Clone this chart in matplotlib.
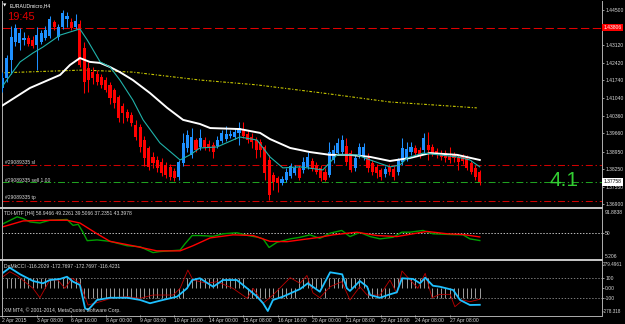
import numpy as np
import matplotlib
matplotlib.use("Agg")
from matplotlib import pyplot as plt
from matplotlib.lines import Line2D

plt.rcParams['lines.scale_dashes'] = False
plt.rcParams['font.family'] = ['Liberation Sans', 'DejaVu Sans']

# EURAUDmicro H4 candles
opens = [1.4144,1.4183,1.4253,1.4324,1.4320,1.4332,1.4340,1.4332,1.4312,1.4324,
         1.4340,1.4347,1.4402,1.4343,1.4383,1.4414,1.4402,1.4383,1.4394,1.4300,
         1.4222,1.4206,1.4199,1.4187,1.4175,1.4156,1.4136,1.4109,1.4073,1.4050,
         1.4038,1.3999,1.3991,1.3940,1.3909,1.3874,1.3862,1.3854,1.3842,1.3835,
         1.3819,1.3795,1.3850,1.3909,1.3882,1.3940,1.3913,1.3940,1.3925,1.3921,
         1.3917,1.3936,1.3944,1.3956,1.3952,1.3968,1.3983,1.3964,1.3952,1.3940,
         1.3932,1.3913,1.3862,1.3803,1.3791,1.3772,1.3784,1.3799,1.3811,1.3831,
         1.3823,1.3835,1.3858,1.3842,1.3831,1.3815,1.3803,1.3862,1.3889,1.3893,
         1.3917,1.3889,1.3831,1.3882,1.3874,1.3870,1.3850,1.3835,1.3823,1.3807,
         1.3835,1.3827,1.3815,1.3854,1.3866,1.3893,1.3909,1.3901,1.3901,1.3921,
         1.3913,1.3897,1.3889,1.3889,1.3878,1.3882,1.3874,1.3874,1.3870,1.3850,
         1.3831,1.3815]
closes = [1.4183,1.4261,1.4343,1.4379,1.4359,1.4340,1.4316,1.4308,1.4351,1.4359,
          1.4371,1.4414,1.4383,1.4383,1.4437,1.4426,1.4379,1.4406,1.4234,1.4167,
          1.4175,1.4183,1.4167,1.4156,1.4136,1.4105,1.4085,1.4026,1.4046,1.4026,
          1.4007,1.3952,1.3913,1.3870,1.3835,1.3850,1.3831,1.3811,1.3803,1.3795,
          1.3791,1.3854,1.3929,1.3960,1.3952,1.3901,1.3948,1.3913,1.3909,1.3893,
          1.3940,1.3968,1.3964,1.3964,1.3972,1.3987,1.3956,1.3940,1.3932,1.3901,
          1.3901,1.3811,1.3725,1.3776,1.3772,1.3788,1.3815,1.3838,1.3831,1.3791,
          1.3854,1.3874,1.3831,1.3815,1.3791,1.3784,1.3893,1.3901,1.3929,1.3940,
          1.3854,1.3823,1.3870,1.3913,1.3913,1.3831,1.3815,1.3811,1.3795,1.3827,
          1.3815,1.3795,1.3862,1.3909,1.3905,1.3913,1.3889,1.3882,1.3948,1.3901,
          1.3889,1.3882,1.3874,1.3870,1.3862,1.3870,1.3854,1.3858,1.3831,1.3815,
          1.3795,1.3776]
highs = [1.4206,1.4273,1.4387,1.4394,1.4379,1.4363,1.4351,1.4347,1.4383,1.4371,
         1.4387,1.4426,1.4410,1.4394,1.4449,1.4441,1.4418,1.4434,1.4410,1.4324,
         1.4246,1.4226,1.4214,1.4199,1.4187,1.4167,1.4144,1.4116,1.4085,1.4062,
         1.4050,1.4019,1.4003,1.3956,1.3917,1.3893,1.3878,1.3870,1.3854,1.3846,
         1.3831,1.3862,1.3968,1.3979,1.3987,1.3948,1.3983,1.3952,1.3940,1.3932,
         1.3956,1.3979,1.3995,1.3979,1.3987,1.4011,1.4011,1.3979,1.3968,1.3952,
         1.3944,1.3921,1.3882,1.3815,1.3799,1.3799,1.3831,1.3850,1.3842,1.3842,
         1.3874,1.3893,1.3870,1.3854,1.3842,1.3831,1.3932,1.3921,1.3948,1.3960,
         1.3948,1.3901,1.3882,1.3929,1.3929,1.3889,1.3862,1.3846,1.3831,1.3838,
         1.3846,1.3838,1.3870,1.3948,1.3932,1.3932,1.3921,1.3913,1.3968,1.3972,
         1.3925,1.3909,1.3901,1.3901,1.3913,1.3893,1.3885,1.3885,1.3882,1.3862,
         1.3842,1.3823]
lows = [1.4128,1.4167,1.4199,1.4308,1.4293,1.4312,1.4308,1.4300,1.4214,1.4316,
        1.4332,1.4340,1.4371,1.4332,1.4375,1.4383,1.4371,1.4375,1.4226,1.4124,
        1.4128,1.4159,1.4156,1.4144,1.4128,1.4081,1.4066,1.4011,1.4007,1.4015,
        1.3995,1.3940,1.3893,1.3838,1.3823,1.3831,1.3815,1.3799,1.3791,1.3784,
        1.3780,1.3784,1.3838,1.3893,1.3870,1.3893,1.3901,1.3901,1.3897,1.3870,
        1.3909,1.3929,1.3936,1.3948,1.3944,1.3921,1.3948,1.3929,1.3909,1.3870,
        1.3874,1.3784,1.3705,1.3744,1.3737,1.3764,1.3776,1.3791,1.3803,1.3784,
        1.3811,1.3827,1.3819,1.3807,1.3780,1.3780,1.3795,1.3850,1.3882,1.3885,
        1.3842,1.3815,1.3819,1.3870,1.3862,1.3815,1.3803,1.3791,1.3784,1.3795,
        1.3803,1.3784,1.3803,1.3842,1.3858,1.3882,1.3878,1.3870,1.3889,1.3862,
        1.3878,1.3870,1.3862,1.3854,1.3850,1.3854,1.3823,1.3846,1.3823,1.3807,
        1.3784,1.3764]

# moving averages (bar index, price)
white_x = [-0.6,6.4,13.4,15.7,18.0,20.3,22.7,25.0,27.3,30.3,34.3,38.3,42.0,45.9,
           48.3,55.2,59.9,62.2,66.9,71.5,76.2,80.8,85.5,90.1,94.8,99.4,105.7,111.0]
white_ma = [1.4069,1.4144,1.4195,1.4234,1.4261,1.4246,1.4242,1.4226,1.4206,1.4175,
            1.4124,1.4066,1.4019,1.4003,1.3987,1.3983,1.3968,1.3944,1.3909,1.3893,
            1.3882,1.3882,1.3874,1.3858,1.3870,1.3889,1.3882,1.3862]
teal_x = [-0.6,1.0,4.1,7.1,9.4,13.4,15.7,18.0,19.7,22.7,25.0,27.3,30.3,32.7,36.6,
          41.3,43.6,45.9,49.9,55.2,59.2,62.2,65.2,69.2,74.5,77.8,82.4,85.5,90.1,
          92.4,94.1,97.8,105.7,108.7,111.0]
teal_ma = [1.4136,1.4175,1.4246,1.4281,1.4304,1.4351,1.4363,1.4375,1.4332,1.4246,
           1.4226,1.4175,1.4097,1.4019,1.3929,1.3862,1.3882,1.3909,1.3913,1.3952,
           1.3940,1.3874,1.3831,1.3835,1.3823,1.3882,1.3882,1.3862,1.3835,1.3842,
           1.3870,1.3889,1.3874,1.3862,1.3835]
yellow_x = [-0.6,18.7,30.3,45.9,59.2,74.5,90.1,110.3]
yellow_ma = [1.4203,1.4214,1.4206,1.4175,1.4156,1.4124,1.4089,1.4066]

# order / object lines
line_red = 1.43806
sl_price = 1.3842
sell_price = 1.3775
tp_price = 1.3703
bid_price = 1.37758

price_ticks = [1.44500,1.43120,1.42420,1.41740,1.41040,1.40360,1.39660,1.38950,1.38250,1.37550,1.36900]
price_labels = ['1.44500','1.43120','1.42420','1.41740','1.41040','1.40360','1.39660','1.38950','1.38250','1.37550','1.36900']

# TDI-MTF
tdi_green_x = [-0.6,3.4,4.8,6.4,8.7,11.0,15.0,16.4,17.6,18.7,19.7,22.0,25.0,29.0,32.0,35.0,
               36.6,41.3,42.4,44.1,45.9,49.0,51.3,54.5,57.1,59.4,60.6,62.0,63.8,66.9,69.2,
               71.5,73.8,76.2,78.9,80.8,83.1,85.5,87.8,90.8,92.9,94.8,97.8,100.1,104.1,107.1,
               108.7,111.0]
tdi_green = [63.6,78.3,75.4,69.4,67.6,72.4,73.7,63.6,65.3,51.7,37.0,38.3,35.8,28.2,26.4,16.3,
             18.1,20.6,31.2,45.9,45.9,44.6,48.9,50.7,45.9,42.9,40.1,25.2,34.0,40.1,42.9,
             47.1,41.0,50.0,54.7,44.1,51.2,44.1,40.1,42.9,51.7,51.7,54.7,48.9,47.7,47.1,
             40.1,37.2]
tdi_red_x = [-0.6,4.8,11.0,15.0,18.0,22.0,25.0,30.3,35.9,41.3,44.3,48.3,53.6,58.3,62.2,
             66.2,69.2,73.8,76.9,82.4,87.1,91.7,95.5,98.7,103.4,107.1,111.0]
tdi_red = [59.5,71.2,72.4,72.4,67.6,48.9,35.8,28.2,19.3,19.3,28.2,41.8,47.1,45.9,35.8,
           35.3,38.3,42.9,47.1,51.7,45.9,44.1,48.9,53.0,48.9,47.7,43.4]

# DeMkCCI
cci_blue_x = [-0.6,1.7,4.1,7.1,9.4,11.0,13.4,15.0,16.4,18.0,19.2,19.9,22.0,25.0,29.0,
              32.0,34.3,37.3,40.6,42.9,44.1,45.9,49.0,51.3,54.5,56.9,59.2,60.6,61.7,62.9,
              65.2,69.2,71.0,72.7,73.8,76.2,79.0,80.1,80.8,83.1,84.8,85.5,87.8,90.1,91.7,
              92.9,95.5,97.1,98.3,100.1,101.7,104.8,106.4,108.7,111.0]
cci_blue = [135,210,142,73,49,83,94,117,66,32,-209,-227,-123,-100,-100,
            -123,-157,-123,-89,-3,83,101,14,83,83,-3,-89,-157,-237,-123,
            -89,-10,49,-3,-38,163,142,-3,-30,73,14,-72,-100,-65,-44,
            101,94,49,107,24,14,-20,-123,-175,-173]
cci_red_x = [-0.6,1.7,3.4,7.1,8.7,11.0,12.9,14.5,16.2,18.0,19.9,22.7,25.7,29.0,32.0,
             35.0,39.7,41.3,43.1,44.3,47.6,49.9,53.6,56.9,58.3,60.6,62.9,66.9,69.2,70.8,
             72.2,73.8,76.2,78.9,80.8,83.1,84.8,87.8,90.1,91.7,92.9,94.8,96.6,98.3,99.9,
             101.7,104.1,105.2,107.1,108.7,111.0]
cci_red = [94,169,128,-3,-100,83,83,-3,101,49,-175,-141,-100,-89,-106,
           -72,-72,-3,186,83,49,66,-3,-106,-3,-157,-72,107,49,130,
           -50,-100,14,66,-123,14,-72,-72,83,-54,176,83,-3,152,-100,
           -65,-65,-193,-123,-141,-116]
cci_hist = ([100]*19 + [-100]*24 + [100]*14 + [-100]*12 + [100]*6 + [-100]*1
            + [100]*9 + [-100]*6 + [100]*9 + [-100]*12)

time_idx = [0,8,16,24,32,40,48,56,64,72,80,88,96,104]
time_labels = ['2 Apr 2015','3 Apr 08:00','6 Apr 16:00','8 Apr 00:00','9 Apr 08:00',
               '10 Apr 16:00','14 Apr 00:00','15 Apr 08:00','16 Apr 16:00','20 Apr 00:00',
               '21 Apr 08:00','22 Apr 16:00','24 Apr 08:00','27 Apr 08:00']

BULL = '#1e90ff'
BEAR = '#ff0000'
GRID = '#c8c8c8'
TXT = '#d8d8d8'
FS = 3.6

W, H = 625, 324
fig = plt.figure(figsize=(W/100, H/100), dpi=100, facecolor='black')

def px_axes(x0, y0, x1, y1):
    a = fig.add_axes([x0/W, 1-y1/H, (x1-x0)/W, (y1-y0)/H])
    a.set_facecolor('black')
    a.set_xlim(-0.116, 139.42)
    for s in ['top', 'bottom']:
        a.spines[s].set_visible(False)
    for s in ['left', 'right']:
        a.spines[s].set_color('#b0b0b0')
        a.spines[s].set_linewidth(0.7)
    a.yaxis.tick_right()
    a.tick_params(axis='y', colors=TXT, labelsize=FS, length=1.5, width=0.5, pad=0.8)
    return a

def ftext(x, y, s, **kw):
    fig.text(x/W, 1-y/H, s, **kw)

# ---- main price window
ax = px_axes(2, 1, 602, 207)
ax.set_ylim(1.36779, 1.44844)
o = np.array(opens); c = np.array(closes)
hi = np.array(highs); lo = np.array(lows)
xs = np.arange(len(c))
col = np.where(c >= o, BULL, BEAR)
ax.vlines(xs, lo, hi, colors=col, lw=0.75, zorder=3)
ax.bar(xs, np.maximum(np.abs(c-o), 0.00025), bottom=np.minimum(o, c), width=0.72,
       color=col, linewidth=0, zorder=4)
ax.plot(yellow_x, yellow_ma, color='#c8c800', lw=0.8, ls=(0, (2, 1.2, 0.8, 1.2)), zorder=2)
ax.plot(white_x, white_ma, color='white', lw=1.4, zorder=5)
ax.plot(teal_x, teal_ma, color='#20b2aa', lw=0.8, zorder=6)

ax.axhline(line_red, color='#e00000', lw=0.75, ls=(0, (6, 2.5)), zorder=1)
ax.axhline(sl_price, color='#d00000', lw=0.75, ls=(0, (5, 2, 1, 2)), zorder=1)
ax.axhline(sell_price, color='#20a020', lw=0.75, ls=(0, (5, 2, 1, 2)), zorder=1)
ax.axhline(tp_price, color='#d00000', lw=0.75, ls=(0, (5, 2, 1, 2)), zorder=1)

ax.set_xticks([])
ax.set_yticks(price_ticks)
ax.set_yticklabels(price_labels)
ax.text(1.0025, line_red, '1.43806', transform=ax.get_yaxis_transform(), color='white',
        fontsize=FS, va='center', ha='left', clip_on=False,
        bbox=dict(boxstyle='square,pad=0.25', fc='#ff0000', ec='none'))
ax.text(1.0025, bid_price, '1.37758', transform=ax.get_yaxis_transform(), color='black',
        fontsize=FS, va='center', ha='left', clip_on=False, zorder=10,
        bbox=dict(boxstyle='square,pad=0.25', fc='white', ec='none'))

ftext(3, 5.5, '▼', color='white', fontsize=3.2, va='center', family='DejaVu Sans')
ftext(10, 5.5, 'EURAUDmicro,H4', color='white', fontsize=FS, va='center')
ftext(7, 17, '19:45', color='#e00000', fontsize=8, va='center')
ftext(5, 162.5, '#29089335 sl', color=TXT, fontsize=FS, va='center')
ftext(5, 180, '#29089335 sell 1.00', color=TXT, fontsize=FS, va='center')
ftext(5, 198, '#29089335 tp', color=TXT, fontsize=FS, va='center')
ftext(579, 181, '4.1', color='#32cd32', fontsize=15, ha='right', va='center')

# ---- TDI window
ax2 = px_axes(2, 209, 602, 259)
ax2.set_ylim(5.206, 91.8838)
ax2.axhline(50, color='#e0e0e0', lw=0.6, ls=(0, (1, 1.2)))
ax2.plot(tdi_green_x, tdi_green, color='#00a000', lw=1.0)
ax2.plot(tdi_red_x, tdi_red, color='#ff0000', lw=1.0)
ax2.set_xticks([])
ax2.set_yticks([50])
ax2.set_yticklabels(['50'])
ax2.text(1.004, 0.98, '91.8838', transform=ax2.transAxes, color=TXT, fontsize=FS,
         va='top', ha='left', clip_on=False)
ax2.text(1.004, 0.0, '5.206', transform=ax2.transAxes, color=TXT, fontsize=FS,
         va='bottom', ha='left', clip_on=False)
ftext(4, 214, 'TDI-MTF [H4] 58.9466 49.2261 39.5066 37.2351 43.3978', color=TXT,
      fontsize=FS, va='center')

# ---- DeMkCCI window
ax3 = px_axes(2, 261, 602, 315)
ax3.set_ylim(-278.318, 279.4961)
ax3.vlines(np.arange(len(cci_hist)), 0, cci_hist, colors='#b8b8b8', lw=0.6)
ax3.axhline(100, color='#909090', lw=0.6, ls=(0, (1, 1.2)))
ax3.axhline(-100, color='#909090', lw=0.6, ls=(0, (1, 1.2)))
ax3.plot(cci_red_x, cci_red, color='#c00000', lw=0.6)
ax3.plot(cci_blue_x, cci_blue, color='#1ec0ff', lw=1.3)
ax3.set_yticks([100, 0, -100])
ax3.set_yticklabels(['100', '0.00', '-100'])
ax3.text(1.002, 0.99, '279.4961', transform=ax3.transAxes, color=TXT, fontsize=3.3,
         va='top', ha='left', clip_on=False)
ax3.text(1.002, 0.01, '-278.318', transform=ax3.transAxes, color=TXT, fontsize=3.3,
         va='bottom', ha='left', clip_on=False)
ax3.set_xticks(time_idx)
ax3.set_xticklabels(time_labels)
ax3.tick_params(axis='x', colors=TXT, labelsize=FS, length=1.5, width=0.5, pad=0.8)
for t in ax3.get_xticklabels():
    t.set_ha('left')
ftext(4, 266, 'DeMkCCI -116.2029 -172.7697 -172.7697 -116.4231', color=TXT,
      fontsize=FS, va='center')
ftext(4, 310, 'XM MT4, © 2001-2014, MetaQuotes Software Corp.', color=TXT,
      fontsize=FS, va='center')

# window separators
for yy, lw in [(208, 1.4), (260, 1.4), (315.5, 0.6)]:
    fig.add_artist(Line2D([0, 602/W], [1-yy/H, 1-yy/H], color=GRID, lw=lw,
                          transform=fig.transFigure))

fig.savefig('out.png', dpi=100, facecolor='black')
